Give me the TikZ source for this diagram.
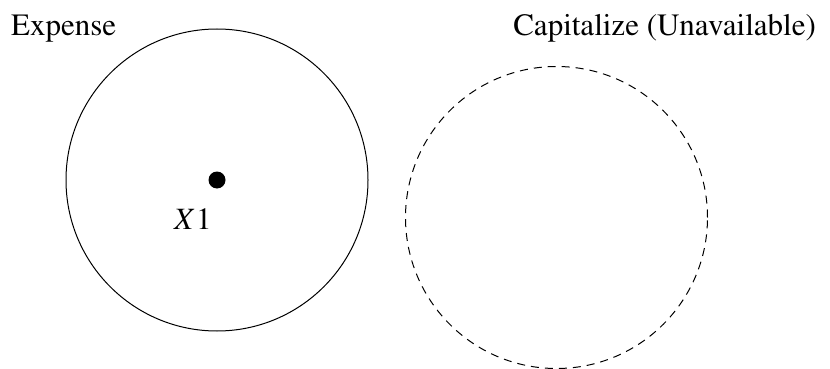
\documentclass[tikz,border=0pt]{standalone}
\usepackage[T1]{fontenc}
\usepackage{mathptmx}
\tikzset{
  setcircle/.style={circle, draw=black, line width=1pt, minimum size=302pt, inner sep=0pt},
  unavail/.style={setcircle, dash pattern=on 8pt off 6pt},
  elemdot/.style={circle, fill=black, minimum size=17pt, inner sep=0pt},
  lbl/.style={inner sep=0pt, font=\fontsize{31}{36}\selectfont}
}
\begin{document}
\begin{tikzpicture}[x=1pt,y=-1pt]
\useasboundingbox (0,0) rectangle (830,369);
\node[setcircle] (expense) at (217,180) {};
\node[unavail] (capitalize) at (556.5,217.5) {};
\node[lbl, anchor=base west] (expenselbl) at (11,36) {Expense};
\node[lbl, anchor=base east] (capitalizelbl) at (816,36) {Capitalize (Unavailable)};
\node[elemdot] (x1) at (217,180) {};
\node[lbl, anchor=base west] (x1lbl) at (174,229) {$X1$};
\end{tikzpicture}
\end{document}
